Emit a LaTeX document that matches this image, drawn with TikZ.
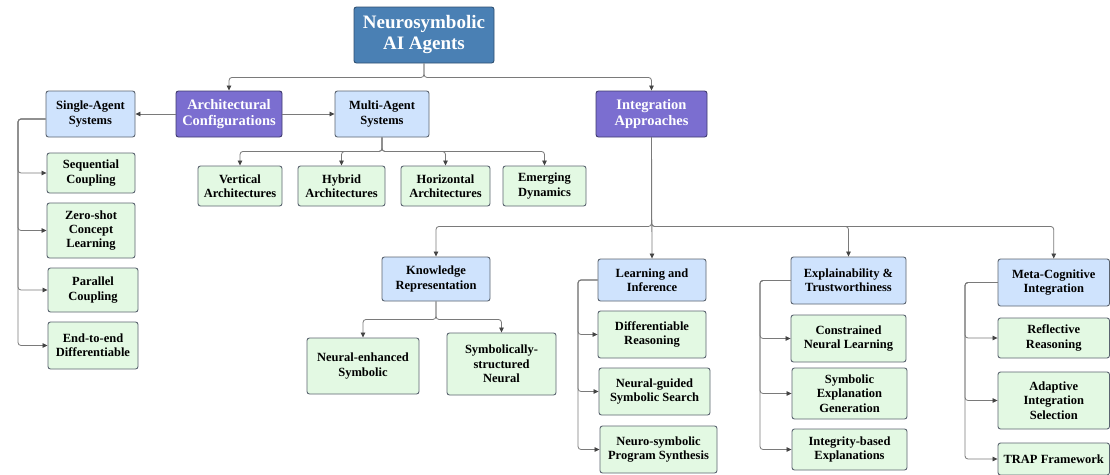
\documentclass[tikz,border=0pt]{standalone}
\usepackage{fontspec}
\setmainfont{Liberation Serif}
\usetikzlibrary{arrows.meta}
\definecolor{rootfill}{HTML}{4A80B4}
\definecolor{rootdraw}{HTML}{2E4F70}
\definecolor{purfill}{HTML}{7B6ED0}
\definecolor{purdraw}{HTML}{3F3A6E}
\definecolor{bluefill}{HTML}{CFE3FD}
\definecolor{greenfill}{HTML}{E3F9E3}
\definecolor{boxdraw}{HTML}{5B6470}
\definecolor{linecol}{HTML}{7A7A7A}
\definecolor{tipcol}{HTML}{454545}
\tikzset{
  x=1pt, y=-1pt,
  base/.style={rectangle, rounded corners=2.5pt, align=center, inner sep=0pt, line width=0.9pt},
  rootbox/.style={base, fill=rootfill, draw=rootdraw, text=white, font=\fontsize{19}{21}\selectfont\bfseries},
  purbox/.style={base, fill=purfill, draw=purdraw, text=white, font=\fontsize{14.5}{16}\selectfont\bfseries},
  bluebox/.style={base, fill=bluefill, draw=boxdraw, font=\fontsize{12.5}{14.3}\selectfont\bfseries},
  greenbox/.style={base, fill=greenfill, draw=boxdraw, font=\fontsize{12.5}{14.3}\selectfont\bfseries},
  conn/.style={draw=linecol, line width=0.8pt, rounded corners=3pt,
    -{Triangle[length=5pt,width=4.5pt,color=tipcol]}},
}
\newcommand{\bx}[7]{% style, name, x1, x2, y1, y2, text
  \node[#1, minimum width={#4-#3}, minimum height={#6-#5}] (#2) at ({(#3+#4)/2},{(#5+#6)/2}) {#7};}
\begin{document}
\begin{tikzpicture}
\useasboundingbox[fill=white] (0,0) rectangle (1110,474);
\begin{scope}
\clip (0,0) rectangle (1110,474);
% nodes
\bx{rootbox}{root}{354}{494}{7}{63}{Neurosymbolic\\AI Agents}
\bx{purbox}{arch}{176}{282}{91}{137}{Architectural\\Configurations}
\bx{bluebox}{single}{46}{135}{91}{137}{Single-Agent\\Systems}
\bx{bluebox}{multi}{335}{429}{91}{137}{Multi-Agent\\Systems}
\bx{purbox}{integ}{596}{707}{91}{137}{Integration\\Approaches}
\bx{greenbox}{vert}{198}{282}{166}{206}{Vertical\\Architectures}
\bx{greenbox}{hybrid}{298}{385}{166}{206}{Hybrid\\Architectures}
\bx{greenbox}{horiz}{401}{490}{166}{206}{Horizontal\\Architectures}
\bx{greenbox}{emerg}{503}{586}{166}{206}{Emerging\\Dynamics}
\bx{greenbox}{seq}{47}{135}{153}{193}{Sequential\\Coupling}
\bx{greenbox}{zero}{47}{135}{203}{258}{Zero-shot\\Concept\\Learning}
\bx{greenbox}{par}{48}{138}{268}{312}{Parallel\\Coupling}
\bx{greenbox}{e2e}{48}{138}{322}{369}{End-to-end\\Differentiable}
\bx{bluebox}{know}{382}{490}{257}{301}{Knowledge\\Representation}
\bx{greenbox}{nes}{307}{419}{338}{394}{Neural-enhanced\\Symbolic}
\bx{greenbox}{ssn}{447}{556}{333}{395}{Symbolically-\\structured\\Neural}
\bx{bluebox}{learn}{598}{706}{259}{301}{Learning and\\Inference}
\bx{greenbox}{diff}{598}{706}{311}{358}{Differentiable\\Reasoning}
\bx{greenbox}{ngs}{599}{710}{368}{415}{Neural-guided\\Symbolic Search}
\bx{greenbox}{nsps}{600}{717}{426}{473}{Neuro-symbolic\\Program Synthesis}
\bx{bluebox}{expl}{791}{906}{257}{304}{Explainability \&\\Trustworthiness}
\bx{greenbox}{cnl}{791}{906}{315}{362}{Constrained\\Neural Learning}
\bx{greenbox}{seg}{792}{907}{368}{419}{Symbolic\\Explanation\\Generation}
\bx{greenbox}{ibe}{792}{907}{429}{470}{Integrity-based\\Explanations}
\bx{bluebox}{meta}{998}{1109.5}{259}{306}{Meta-Cognitive\\Integration}
\bx{greenbox}{refl}{998}{1109.5}{318}{358}{Reflective\\Reasoning}
\bx{greenbox}{adap}{998}{1109.5}{372}{429}{Adaptive\\Integration\\Selection}
\bx{greenbox}{trap}{998}{1109.5}{443}{475}{TRAP Framework}
% connectors
\draw[conn] (root.south) -- ++(0,14) -| (arch.north);
\draw[conn] (root.south) -- ++(0,14) -| (integ.north);
\draw[conn] (arch.west) -- (single.east);
\draw[conn] (arch.east) -- (multi.west);
\coordinate (sbus) at (18,119);
\foreach \c in {seq,zero,par,e2e}
  \draw[conn] ([yshift=-5pt]single.west) -- (sbus) |- (\c.west);
\foreach \c in {vert,hybrid,horiz,emerg}
  \draw[conn] (multi.south) -- ++(0,14) -| (\c.north);
\draw[conn] (integ.south) -- (learn.north);
\foreach \c in {know,expl,meta}
  \draw[conn] (integ.south) -- ++(0,89) -| (\c.north);
\foreach \c in {nes,ssn}
  \draw[conn] (know.south) -- ++(0,18) -| (\c.north);
\coordinate (lbus) at (578,280);
\foreach \c in {diff,ngs,nsps}
  \draw[conn] (learn.west) -- (lbus) |- (\c.west);
\coordinate (ebus) at (760,280.5);
\foreach \c in {cnl,seg,ibe}
  \draw[conn] (expl.west) -- (ebus) |- (\c.west);
\coordinate (mbus) at (965,282.5);
\foreach \c in {refl,adap,trap}
  \draw[conn] (meta.west) -- (mbus) |- (\c.west);
\end{scope}
\end{tikzpicture}
\end{document}
